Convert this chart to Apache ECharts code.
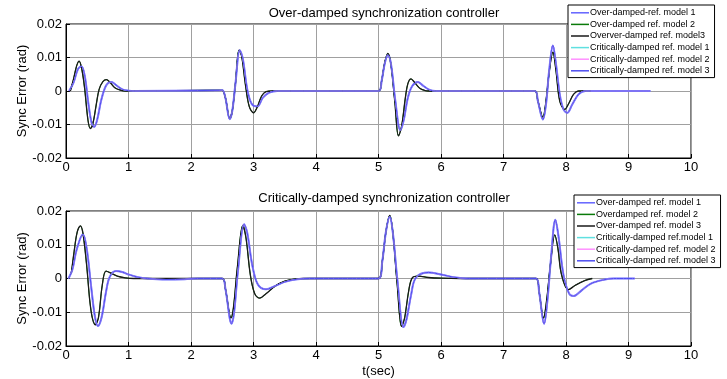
<!DOCTYPE html>
<html>
<head>
<meta charset="utf-8">
<script src="https://cdn.jsdelivr.net/npm/echarts@6/dist/echarts.min.js"></script>
<style>
  html, body { margin: 0; padding: 0; background: #fff; }
  #main { width: 727px; height: 379px; }
</style>
</head>
<body>
<div id="main"></div>
<script>
// x ticks and y ticks
var xTicks = [0, 1, 2, 3, 4, 5, 6, 7, 8, 9, 10];
var yTicks = [-0.02, -0.01, 0, 0.01, 0.02];

var titles = ['Over-damped synchronization controller', 'Critically-damped synchronization controller'];

var topNames = ['Over-damped-ref. model 1', 'Over-damped ref. model 2', 'Overver-damped ref. model3',
	'Critically-damped ref. model 1', 'Critically-damped ref. model 2', 'Critically-damped ref. model 3'];
var bottomNames = ['Over-damped ref. model 1', 'Overdamped ref. model 2', 'Over-damped ref. model 3',
	'Critically-damped ref.model 1', 'Critically-damped ref. model 2', 'Critically-damped ref. model 3'];

// over-damped controller, black curve [t, err]
var topBlack = [[0.07, 0], [0.12, 0.0035], [0.17, 0.0075], [0.21, 0.0089], [0.25, 0.0068], [0.30, 0.0005],
	[0.35, -0.0085], [0.39, -0.0112], [0.43, -0.0098], [0.48, -0.0045], [0.53, 0.0005], [0.59, 0.0028],
	[0.645, 0.0034], [0.70, 0.0027], [0.78, 0.001], [0.88, 0.0002], [0.95, 0], [2.45, 0.0002], [2.5, 0.0002],
	[2.55, -0.002], [2.62, -0.0082], [2.66, -0.006], [2.71, 0.002], [2.77, 0.0122], [2.81, 0.0105],
	[2.87, 0.002], [2.93, -0.0045], [3.0, -0.0065], [3.06, -0.0048], [3.13, -0.0015], [3.2, -0.0002],
	[3.3, 0], [5.0, 0], [5.05, 0.003], [5.1, 0.0085], [5.15, 0.0112], [5.2, 0.0078], [5.26, -0.003],
	[5.32, -0.0134], [5.37, -0.0105], [5.43, -0.002], [5.47, 0.0022], [5.52, 0.0036], [5.58, 0.0025],
	[5.66, 0.0008], [5.75, 0.0001], [5.8, 0], [7.5, 0], [7.55, -0.003], [7.63, -0.0078], [7.68, -0.003],
	[7.73, 0.0055], [7.79, 0.0116], [7.84, 0.006], [7.9, -0.003], [7.98, -0.0055], [8.05, -0.0035],
	[8.12, -0.001], [8.2, 0], [8.4, 0]];

// over-damped controller, blue curve
var topBlue = [[0.05, 0], [0.12, 0.0025], [0.19, 0.0065], [0.245, 0.0074], [0.3, 0.0045], [0.36, -0.004],
	[0.41, -0.0095], [0.45, -0.0107], [0.5, -0.0085], [0.56, -0.003], [0.62, 0.0008], [0.67, 0.0023],
	[0.725, 0.0027], [0.8, 0.0018], [0.9, 0.0005], [1.0, 0.0001], [1.1, 0], [2.45, 0.0002], [2.5, 0.0003],
	[2.55, -0.002], [2.62, -0.0084], [2.66, -0.006], [2.71, 0.002], [2.78, 0.0122], [2.83, 0.0095],
	[2.9, 0.0005], [2.97, -0.0038], [3.06, -0.0046], [3.15, -0.002], [3.25, -0.0005], [3.38, 0],
	[5.0, 0], [5.05, 0.003], [5.1, 0.0082], [5.15, 0.0108], [5.2, 0.008], [5.27, -0.003], [5.35, -0.0117],
	[5.4, -0.009], [5.47, -0.002], [5.54, 0.0015], [5.63, 0.0027], [5.72, 0.0015], [5.82, 0.0003],
	[5.91, 0], [7.5, 0], [7.55, -0.003], [7.63, -0.0085], [7.68, -0.004], [7.73, 0.006], [7.79, 0.0136],
	[7.84, 0.008], [7.9, -0.001], [7.96, -0.0055], [8.02, -0.0065], [8.1, -0.004], [8.2, -0.001],
	[8.31, 0], [9.35, 0]];

// critically-damped controller, black curve
var botBlack = [[0.085, 0.0015], [0.13, 0.008], [0.18, 0.0138], [0.23, 0.0156], [0.27, 0.0135], [0.33, 0.004],
	[0.4, -0.0095], [0.47, -0.0137], [0.52, -0.0115], [0.58, -0.002], [0.64, 0.0022], [0.72, 0.0016],
	[0.82, 0.0007], [0.95, 0.0002], [1.08, 0], [2.5, 0], [2.55, -0.003], [2.64, -0.0117], [2.68, -0.0085],
	[2.74, 0.003], [2.83, 0.0157], [2.88, 0.012], [2.95, 0.001], [3.02, -0.0045], [3.1, -0.0058],
	[3.2, -0.0045], [3.35, -0.0022], [3.5, -0.0008], [3.65, -0.0002], [3.8, 0], [5.0, 0], [5.06, 0.005],
	[5.12, 0.014], [5.18, 0.0187], [5.23, 0.0135], [5.3, -0.002], [5.37, -0.0142], [5.42, -0.0115],
	[5.48, -0.004], [5.54, 0.0002], [5.64, 0.0007], [5.8, 0.0003], [6.0, 0.0001], [6.3, 0], [7.52, 0],
	[7.57, -0.004], [7.64, -0.0117], [7.69, -0.0065], [7.75, 0.004], [7.82, 0.0129], [7.87, 0.009],
	[7.93, 0.001], [8.04, -0.0033], [8.15, -0.002], [8.3, -0.0006], [8.42, 0]];

// critically-damped controller, blue curve
var botBlue = [[0.04, 0], [0.1, 0.0025], [0.17, 0.0085], [0.27, 0.0131], [0.33, 0.009], [0.4, -0.002],
	[0.46, -0.011], [0.51, -0.0141], [0.57, -0.0115], [0.64, -0.004], [0.7, 0.0005], [0.8, 0.0022],
	[0.9, 0.0019], [1.0, 0.0012], [1.15, 0.0004], [1.3, 0], [1.6, -0.0003], [1.9, -0.0002], [2.1, 0],
	[2.5, 0], [2.55, -0.003], [2.65, -0.0134], [2.69, -0.01], [2.75, 0.002], [2.85, 0.0161], [2.9, 0.0135],
	[2.98, 0.004], [3.07, -0.0018], [3.2, -0.0032], [3.35, -0.0022], [3.5, -0.001], [3.7, -0.0002],
	[3.9, 0], [5.0, 0], [5.06, 0.005], [5.12, 0.014], [5.18, 0.0184], [5.23, 0.0135], [5.3, 0],
	[5.4, -0.0144], [5.45, -0.012], [5.52, -0.005], [5.6, 0.0003], [5.8, 0.0018], [6.0, 0.0012],
	[6.2, 0.0004], [6.45, 0], [7.52, 0], [7.57, -0.004], [7.65, -0.0134], [7.7, -0.007], [7.76, 0.006],
	[7.83, 0.0174], [7.88, 0.0125], [7.96, 0.001], [8.05, -0.0045], [8.12, -0.0052], [8.25, -0.0035],
	[8.4, -0.0015], [8.6, -0.0004], [8.76, 0], [9.1, 0]];

var colors = ['#6464ff', '#0a7a0a', '#1a1a1a', '#5fe0e0', '#ff90ff', '#4c4cf0'];
var widths = [2, 1, 1.3, 1, 1, 1];

var font = 'Liberation Sans, Arial, sans-serif';
var chart = echarts.init(document.getElementById('main'));

function fmtY(v) {
	if (Math.abs(v) < 1e-9) return '0';
	return String(Math.round(v * 100) / 100);
}

function makeSeries(names, black, blue, idx) {
	// which curve each legend entry follows
	var curves = [blue, black, black, blue, blue, blue];
	var out = [];
	for (var i = 0; i < 6; i++) {
		out.push({
			name: names[i],
			type: 'line',
			xAxisIndex: idx,
			yAxisIndex: idx,
			data: curves[i],
			smooth: 0.35,
			symbol: 'none',
			animation: false,
			lineStyle: { color: colors[i], width: widths[i] },
			itemStyle: { color: colors[i] }
		});
	}
	return out;
}

var grids = [
	{ left: 66, top: 24, width: 625, height: 134 },
	{ left: 66, top: 211, width: 625, height: 135 }
];

var xAxes = [], yAxes = [];
for (var g = 0; g < 2; g++) {
	grids[g].show = true;
	grids[g].borderColor = '#000';
	grids[g].borderWidth = 1;
	xAxes.push({
		type: 'value', gridIndex: g, min: xTicks[0], max: xTicks[xTicks.length - 1], interval: 1,
		name: g == 1 ? 't(sec)' : '', nameLocation: 'middle', nameGap: 19,
		nameTextStyle: { color: '#000', fontSize: 13, fontFamily: font },
		axisLine: { show: true, onZero: false, lineStyle: { color: '#000' } },
		axisTick: { show: true, inside: true, length: 4, lineStyle: { color: '#000' } },
		axisLabel: { color: '#000', fontSize: 13, fontFamily: font, margin: 3 },
		splitLine: { show: true, lineStyle: { color: '#a0a0a0', width: 1 } }
	});
	yAxes.push({
		type: 'value', gridIndex: g, min: yTicks[0], max: yTicks[yTicks.length - 1], interval: 0.01,
		name: 'Sync Error (rad)', nameLocation: 'middle', nameGap: 37, nameMoveOverlap: false,
		nameTextStyle: { color: '#000', fontSize: 13, fontFamily: font },
		axisLine: { show: true, lineStyle: { color: '#000' } },
		axisTick: { show: true, inside: true, length: 4, lineStyle: { color: '#000' } },
		axisLabel: { color: '#000', fontSize: 13, fontFamily: font, margin: 4, formatter: fmtY },
		splitLine: { show: true, lineStyle: { color: '#a0a0a0', width: 1 } }
	});
}

var legendBase = {
	orient: 'vertical',
	backgroundColor: '#fff',
	borderColor: '#000',
	borderWidth: 1,
	borderRadius: 0,
	padding: [2, 5, 1, 3],
	itemGap: 0,
	itemWidth: 18,
	itemHeight: 1.5,
	icon: 'rect',
	textStyle: { color: '#000', fontSize: 9, lineHeight: 11.6, fontFamily: font, padding: [0, 0, 0, -4] }
};

option = {
	backgroundColor: '#fff',
	animation: false,
	title: [
		{ text: titles[0], left: 379, top: 2, textAlign: 'center',
			textStyle: { color: '#000', fontSize: 13, fontWeight: 'normal', fontFamily: font } },
		{ text: titles[1], left: 379, top: 187, textAlign: 'center',
			textStyle: { color: '#000', fontSize: 13, fontWeight: 'normal', fontFamily: font } }
	],
	grid: grids,
	xAxis: xAxes,
	yAxis: yAxes,
	legend: [
		Object.assign({}, legendBase, { data: topNames, left: 568, top: 5 }),
		Object.assign({}, legendBase, { data: bottomNames, left: 574, top: 195 })
	],
	series: makeSeries(topNames, topBlack, topBlue, 0).concat(makeSeries(bottomNames, botBlack, botBlue, 1))
};

chart.setOption(option);
</script>
</body>
</html>
